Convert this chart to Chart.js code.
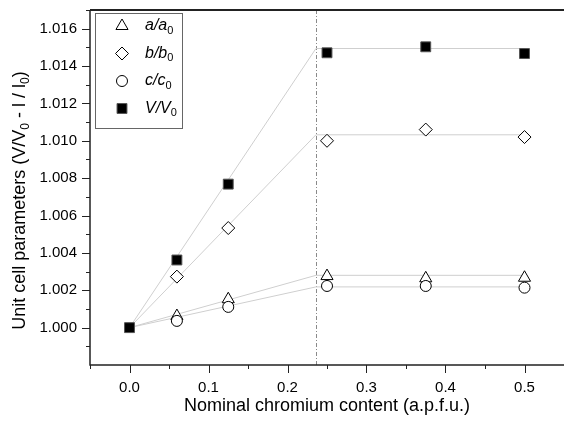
<!DOCTYPE html>
<html>
<head>
<meta charset="utf-8">
<script src="https://cdn.jsdelivr.net/npm/chart.js@4.4.0/dist/chart.umd.min.js"></script>
<style>
  html, body { margin: 0; padding: 0; overflow: hidden; background: #fff; }
</style>
</head>
<body>
<canvas id="chart" width="572" height="425"></canvas>
<script>
// nominal Cr content (a.p.f.u.)
const crContent = [0, 0.06, 0.125, 0.25, 0.375, 0.5];

// normalised cell parameters
// (at x = 0 only the V/V0 square is drawn, the others sit under it)
const aRatio = [null, 1.00062, 1.00152, 1.00276, 1.00264, 1.00267];
const bRatio = [null, 1.00273, 1.00533, 1.01000, 1.01060, 1.01020];
const cRatio = [null, 1.00036, 1.00111, 1.00223, 1.00223, 1.00214];
const vRatio = [1.0000, 1.00362, 1.00768, 1.01471, 1.01503, 1.01467];

// guide lines: linear rise up to the break, then flat
const breakX = 0.236;
const fitX = [0, breakX, 0.5];
const aFit = [1.0000, 1.00280, 1.00280];
const bFit = [1.0000, 1.01032, 1.01032];
const cFit = [1.0000, 1.00218, 1.00218];
const vFit = [1.0000, 1.01494, 1.01494];

const xTicks = [0, 0.1, 0.2, 0.3, 0.4, 0.5];
const yTicks = [1.000, 1.002, 1.004, 1.006, 1.008, 1.010, 1.012, 1.014, 1.016];

const FONT = "'Liberation Sans', Arial, sans-serif";

function pts(xs, ys) {
    return xs.map((x, i) => ({x: x, y: ys[i]}));
}

/**
 * marker look for every series, shared by points and legend
 */
const markers = {
    a: {pointStyle: 'triangle', radius: 7, backgroundColor: '#fff', borderColor: '#000', borderWidth: 1},
    b: {pointStyle: 'rectRot', radius: 6.5, backgroundColor: '#fff', borderColor: '#000', borderWidth: 1},
    c: {pointStyle: 'circle', radius: 5.5, backgroundColor: '#fff', borderColor: '#000', borderWidth: 1},
    V: {pointStyle: 'rect', radius: 7, backgroundColor: '#000', borderColor: '#555', borderWidth: 1}
};

function fitLine(ys) {
    return {
        data: pts(fitX, ys),
        order: 10,
        showLine: true,
        borderColor: '#cfcfcf',
        borderWidth: 1,
        pointRadius: 0,
        pointHoverRadius: 0
    };
}

function seriesSet(key, ys, order) {
    const m = markers[key];
    return {
        data: pts(crContent, ys),
        order: order,
        showLine: false,
        pointStyle: m.pointStyle,
        pointRadius: m.radius,
        pointHoverRadius: m.radius,
        pointBackgroundColor: m.backgroundColor,
        pointBorderColor: m.borderColor,
        pointBorderWidth: m.borderWidth
    };
}

/**
 * draws a row of text pieces, some of them as subscripts
 */
function drawRuns(ctx, runs, x, y, size, center) {
    const fontOf = r => (r.italic ? 'italic ' : '') + (r.sub ? Math.round(size * 0.68) : size) + 'px ' + FONT;
    let total = 0;
    for (const r of runs) {
        ctx.font = fontOf(r);
        total += ctx.measureText(r.t).width;
    }
    let cx = center ? x - total / 2 : x;
    for (const r of runs) {
        ctx.font = fontOf(r);
        ctx.fillText(r.t, cx, r.sub ? y + size * 0.3 : y);
        cx += ctx.measureText(r.t).width;
    }
}

const extras = {
    id: 'extras',
    beforeDatasetsDraw(chart) {
        // dash-dot marker of the break
        const ctx = chart.ctx, x = chart.scales.x, area = chart.chartArea;
        const px = Math.round(x.getPixelForValue(breakX)) + 0.5;
        ctx.save();
        ctx.strokeStyle = '#8a8a8a';
        ctx.lineWidth = 1;
        ctx.setLineDash([4, 2, 1, 2]);
        ctx.beginPath();
        ctx.moveTo(px, area.top);
        ctx.lineTo(px, area.bottom);
        ctx.stroke();
        ctx.restore();
    },
    afterDraw(chart) {
        const ctx = chart.ctx, area = chart.chartArea;
        const x = chart.scales.x, y = chart.scales.y;
        ctx.save();

        // frame
        ctx.strokeStyle = '#222';
        ctx.lineWidth = 2;
        ctx.beginPath();
        ctx.moveTo(area.left, area.top);
        ctx.lineTo(area.right + 2, area.top);
        ctx.stroke();
        ctx.lineWidth = 1.5;
        ctx.beginPath();
        ctx.moveTo(area.left, area.top);
        ctx.lineTo(area.left, area.bottom);
        ctx.lineTo(area.right + 2, area.bottom);
        ctx.stroke();

        // ticks, major and minor, pointing outwards
        ctx.lineWidth = 1;
        ctx.beginPath();
        for (let i = -1; i <= 11; i++) {
            const px = Math.round(x.getPixelForValue(i * 0.05)) + 0.5;
            const len = i % 2 === 0 ? 8 : 4;
            ctx.moveTo(px, area.bottom);
            ctx.lineTo(px, area.bottom + len);
        }
        for (let i = -1; i <= 17; i++) {
            const py = Math.round(y.getPixelForValue(1 + i * 0.001)) + 0.5;
            const len = i % 2 === 0 ? 8 : 4;
            ctx.moveTo(area.left, py);
            ctx.lineTo(area.left - len, py);
        }
        ctx.stroke();

        // y axis title
        ctx.fillStyle = '#000';
        ctx.textBaseline = 'middle';
        ctx.textAlign = 'left';
        ctx.save();
        ctx.translate(20, (area.top + area.bottom) / 2 + 13);
        ctx.rotate(-Math.PI / 2);
        drawRuns(ctx, [
            {t: 'Unit cell parameters (V/V'}, {t: '0', sub: true},
            {t: ' - l / l'}, {t: '0', sub: true}, {t: ')'}
        ], 0, 0, 18, true);
        ctx.restore();

        // legend
        const box = {left: 95.5, top: 13.5, width: 87, height: 115};
        ctx.fillStyle = '#fff';
        ctx.fillRect(box.left, box.top, box.width, box.height);
        ctx.strokeStyle = '#666';
        ctx.lineWidth = 1;
        ctx.strokeRect(box.left, box.top, box.width, box.height);
        const rows = [
            {key: 'a', runs: [{t: 'a/a', italic: true}, {t: '0', sub: true}]},
            {key: 'b', runs: [{t: 'b/b', italic: true}, {t: '0', sub: true}]},
            {key: 'c', runs: [{t: 'c/c', italic: true}, {t: '0', sub: true}]},
            {key: 'V', runs: [{t: 'V/V', italic: true}, {t: '0', sub: true}]}
        ];
        rows.forEach((row, i) => {
            const ry = 26 + i * 27.5;
            const m = markers[row.key];
            ctx.fillStyle = m.backgroundColor;
            ctx.strokeStyle = m.borderColor;
            ctx.lineWidth = m.borderWidth;
            Chart.helpers.drawPoint(ctx, {pointStyle: m.pointStyle, radius: m.radius, borderWidth: m.borderWidth, rotation: 0}, 122, ry);
            ctx.fillStyle = '#000';
            drawRuns(ctx, row.runs, 145, ry, 16, false);
        });
        ctx.restore();
    }
};

new Chart(document.getElementById('chart'), {
    type: 'scatter',
    data: {
        datasets: [
            fitLine(aFit), fitLine(bFit), fitLine(cFit), fitLine(vFit),
            seriesSet('a', aRatio, 3),
            seriesSet('b', bRatio, 2),
            seriesSet('c', cRatio, 1),
            seriesSet('V', vRatio, 0)
        ]
    },
    options: {
        responsive: false,
        animation: false,
        layout: {padding: {top: 10, right: 5, left: 0, bottom: 0}},
        plugins: {
            legend: {display: false},
            tooltip: {enabled: false}
        },
        scales: {
            x: {
                type: 'linear',
                min: -0.05,
                max: 0.55,
                grid: {display: false, drawTicks: false},
                border: {display: false},
                afterBuildTicks: s => { s.ticks = xTicks.map(v => ({value: v})); },
                afterFit: s => { s.height = 60; s.paddingLeft = 0; s.paddingRight = 0; },
                ticks: {
                    color: '#000',
                    padding: 14,
                    font: {family: FONT, size: 15},
                    callback: v => Number(v).toFixed(1)
                },
                title: {
                    display: true,
                    text: 'Nominal chromium content (a.p.f.u.)',
                    color: '#000',
                    font: {family: FONT, size: 18},
                    padding: {top: 3, bottom: 8}
                }
            },
            y: {
                type: 'linear',
                min: 0.998,
                max: 1.017,
                grid: {display: false, drawTicks: false},
                border: {display: false},
                afterBuildTicks: s => { s.ticks = yTicks.map(v => ({value: v})); },
                afterFit: s => { s.width = 90; s.paddingTop = 0; s.paddingBottom = 0; },
                ticks: {
                    color: '#000',
                    padding: 13,
                    font: {family: FONT, size: 15},
                    callback: v => Number(v).toFixed(3)
                }
            }
        }
    },
    plugins: [extras]
});
</script>
</body>
</html>
